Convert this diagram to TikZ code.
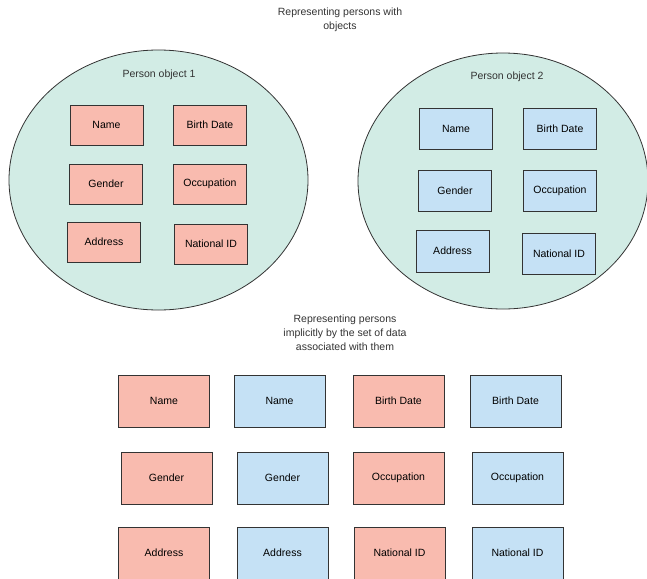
\documentclass[tikz,border=0pt]{standalone}
\usepackage{fontspec}
\setmainfont{Liberation Sans}
\usetikzlibrary{shapes.geometric}
\definecolor{salmon}{RGB}{249,187,175}
\definecolor{skyblue}{RGB}{197,225,245}
\definecolor{mint}{RGB}{210,236,229}
\definecolor{edgegray}{RGB}{51,51,51}
\tikzstyle{person}=[ellipse,draw=edgegray,fill=mint,thick,inner sep=0pt]
\tikzstyle{field}=[rectangle,draw=edgegray,thick,inner sep=0pt,minimum width=73pt,minimum height=40pt,font=\fontsize{10.5}{13}\selectfont]
\tikzstyle{loose}=[field,minimum width=91pt,minimum height=52pt]
\tikzstyle{red}=[fill=salmon]
\tikzstyle{blue}=[fill=skyblue]
\tikzstyle{caption}=[align=center,font=\fontsize{10.5}{14}\selectfont,text=edgegray]

\begin{document}
\begin{tikzpicture}[x=1pt,y=-1pt]
    \useasboundingbox (0,0) rectangle (647,578);
    \node[caption] (title) at (340,20) {Representing persons with\\objects};
    % the two objects
    \node[person,minimum width=299pt,minimum height=260pt] (obj1) at (158.5,180) {};
    \node[person,minimum width=290pt,minimum height=256pt] (obj2) at (503,181) {};
    \node[caption] (lab1) at (159,75) {Person object 1};
    \node[caption] (lab2) at (507,77) {Person object 2};
    \node[field,red] (name1) at (106.5,125) {Name};
    \node[field,red] (birth1) at (210,125) {Birth Date};
    \node[field,red] (gender1) at (106,184) {Gender};
    \node[field,red] (occ1) at (210,184) {Occupation};
    \node[field,red] (addr1) at (104,242) {Address};
    \node[field,red] (natid1) at (211,244) {National ID};
    \node[field,blue,minimum height=41pt] (name2) at (456,128.5) {Name};
    \node[field,blue,minimum height=41pt] (birth2) at (560,128.5) {Birth Date};
    \node[field,blue,minimum height=41pt] (gender2) at (455,190.5) {Gender};
    \node[field,blue,minimum height=41pt] (occ2) at (560,190.5) {Occupation};
    \node[field,blue,minimum height=42pt] (addr2) at (452.5,251) {Address};
    \node[field,blue,minimum height=41pt] (natid2) at (559,253.5) {National ID};
    % implicit representation
    \node[caption] (implicit) at (345,333) {Representing persons\\implicitly by the set of data\\associated with them};
    \node[loose,red] (nameA) at (164,401) {Name};
    \node[loose,blue] (nameB) at (279.5,401) {Name};
    \node[loose,red] (birthA) at (398.5,401) {Birth Date};
    \node[loose,blue] (birthB) at (515.5,401) {Birth Date};
    \node[loose,red] (genderA) at (166.5,478) {Gender};
    \node[loose,blue] (genderB) at (282.5,478) {Gender};
    \node[loose,red] (occA) at (398.5,478) {Occupation};
    \node[loose,blue] (occB) at (517.5,478) {Occupation};
    \node[loose,red] (addrA) at (164,553) {Address};
    \node[loose,blue] (addrB) at (282.5,553) {Address};
    \node[loose,red] (natidA) at (399.5,553) {National ID};
    \node[loose,blue] (natidB) at (517.5,553) {National ID};
\end{tikzpicture}
\end{document}
